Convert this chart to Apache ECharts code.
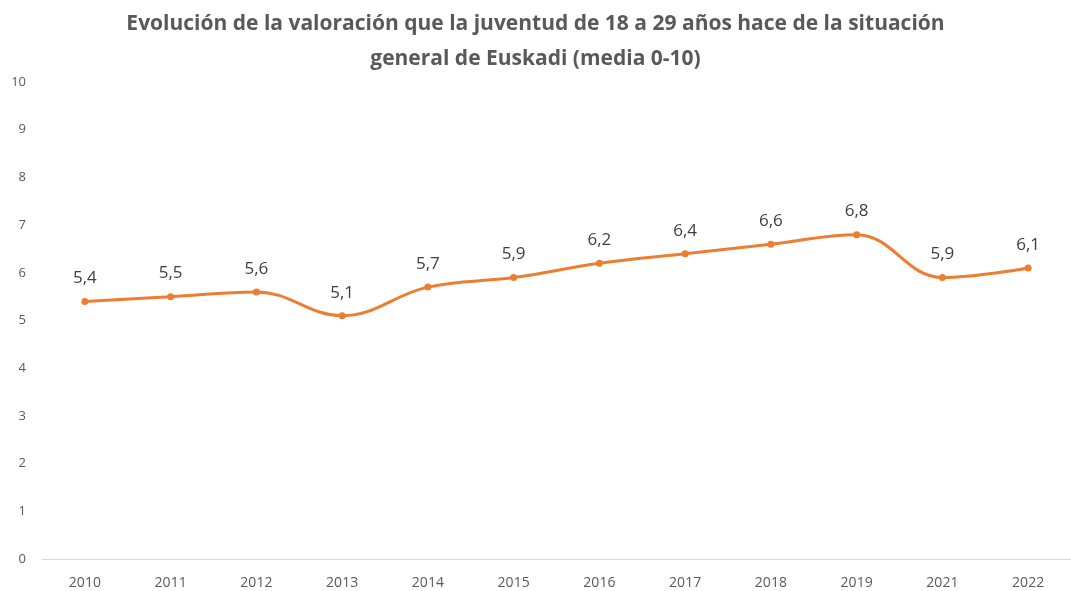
<!DOCTYPE html>
<html>
<head>
<meta charset="utf-8">
<script src="https://cdn.jsdelivr.net/npm/echarts@6/dist/echarts.min.js"></script>
<style>
  html, body { margin: 0; padding: 0; background: #fff; }
  #chart { width: 1071px; height: 591px; }
</style>
</head>
<body>
<div id="chart"></div>
<script>
const years = ['2010', '2011', '2012', '2013', '2014', '2015', '2016', '2017', '2018', '2019', '2021', '2022'];
const valoracion = [5.4, 5.5, 5.6, 5.1, 5.7, 5.9, 6.2, 6.4, 6.6, 6.8, 5.9, 6.1];
const titleText = 'Evolución de la valoración que la juventud de 18 a 29 años hace de la situación\ngeneral de Euskadi (media 0-10)';

const chart = echarts.init(document.getElementById('chart'));

chart.setOption({
    animation: false,
    title: {
        text: titleText,
        left: 'center',
        top: 2,
        textStyle: {
            fontFamily: 'Open Sans',
            fontWeight: 'bold',
            fontSize: 21,
            color: '#595959',
            lineHeight: 35,
        },
    },
    grid: {
        left: 42,
        right: 0,
        top: 82,
        bottom: 32,
    },
    xAxis: {
        type: 'category',
        data: years,
        boundaryGap: true,
        axisLine: { lineStyle: { color: '#d9d9d9', width: 1 } },
        axisTick: { show: false },
        axisLabel: {
            color: '#595959',
            fontFamily: 'Open Sans',
            fontSize: 14,
            margin: 17,
        },
    },
    yAxis: {
        type: 'value',
        min: 0,
        max: 10,
        interval: 1,
        axisLine: { show: false },
        axisTick: { show: false },
        splitLine: { show: false },
        axisLabel: {
            color: '#595959',
            fontFamily: 'Open Sans',
            fontSize: 13,
            margin: 16,
        },
    },
    series: [
        {
            type: 'line',
            data: valoracion,
            smooth: 0.4,
            symbol: 'circle',
            symbolSize: 7,
            lineStyle: { color: '#ED7D31', width: 3 },
            itemStyle: { color: '#ED7D31' },
            label: {
                show: true,
                position: 'top',
                distance: 11,
                color: '#404040',
                fontFamily: 'Open Sans',
                fontSize: 17,
                formatter: (p) => String(p.value).replace('.', ','),
            },
        },
    ],
});
</script>
</body>
</html>
